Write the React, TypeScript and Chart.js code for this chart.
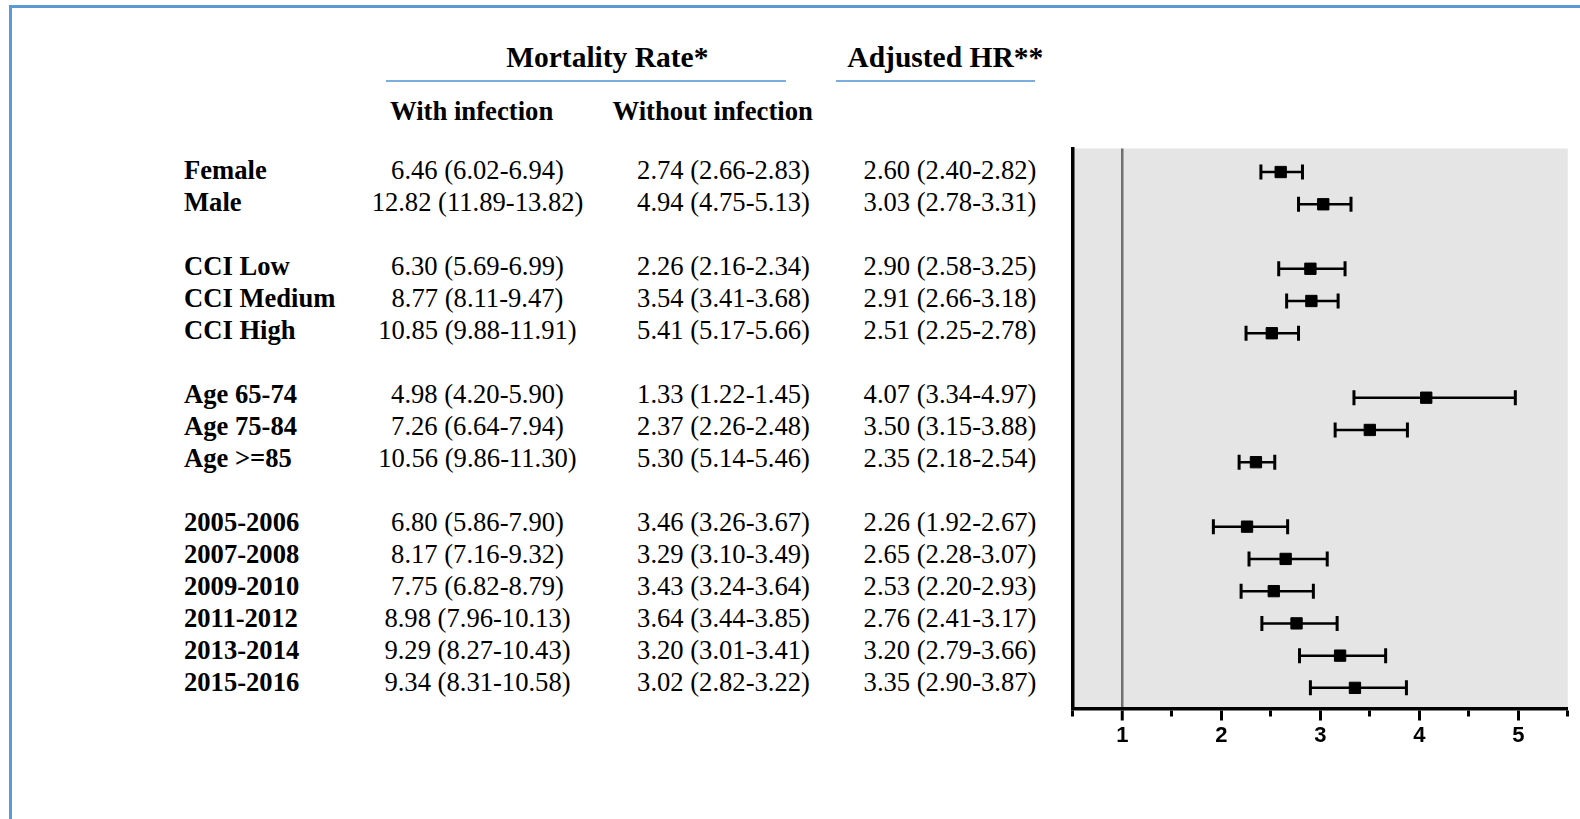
import React, { useEffect, useRef } from 'react';
import { Chart, registerables } from 'chart.js';

Chart.register(...registerables);

// ---------- data ----------
const groupSizes = [2, 3, 3, 6];
const rowLabels = [
  'Female', 'Male',
  'CCI Low', 'CCI Medium', 'CCI High',
  'Age 65-74', 'Age 75-84', 'Age >=85',
  '2005-2006', '2007-2008', '2009-2010', '2011-2012', '2013-2014', '2015-2016',
];
const withRate = [6.46, 12.82, 6.30, 8.77, 10.85, 4.98, 7.26, 10.56, 6.80, 8.17, 7.75, 8.98, 9.29, 9.34];
const withLo = [6.02, 11.89, 5.69, 8.11, 9.88, 4.20, 6.64, 9.86, 5.86, 7.16, 6.82, 7.96, 8.27, 8.31];
const withHi = [6.94, 13.82, 6.99, 9.47, 11.91, 5.90, 7.94, 11.30, 7.90, 9.32, 8.79, 10.13, 10.43, 10.58];
const withoutRate = [2.74, 4.94, 2.26, 3.54, 5.41, 1.33, 2.37, 5.30, 3.46, 3.29, 3.43, 3.64, 3.20, 3.02];
const withoutLo = [2.66, 4.75, 2.16, 3.41, 5.17, 1.22, 2.26, 5.14, 3.26, 3.10, 3.24, 3.44, 3.01, 2.82];
const withoutHi = [2.83, 5.13, 2.34, 3.68, 5.66, 1.45, 2.48, 5.46, 3.67, 3.49, 3.64, 3.85, 3.41, 3.22];
const hr = [2.60, 3.03, 2.90, 2.91, 2.51, 4.07, 3.50, 2.35, 2.26, 2.65, 2.53, 2.76, 3.20, 3.35];
const hrLo = [2.40, 2.78, 2.58, 2.66, 2.25, 3.34, 3.15, 2.18, 1.92, 2.28, 2.20, 2.41, 2.79, 2.90];
const hrHi = [2.82, 3.31, 3.25, 3.18, 2.78, 4.97, 3.88, 2.54, 2.67, 3.07, 2.93, 3.17, 3.66, 3.87];
const xTickLabels = [1, 2, 3, 4, 5];
const refValue = 1;

// row slot index (one empty slot between groups)
const rowPos: number[] = [];
{
  let p = 0;
  groupSizes.forEach((n) => {
    for (let k = 0; k < n; k++) rowPos.push(p++);
    p++;
  });
}

const fmt = (v: number, lo: number, hi: number) =>
  `${v.toFixed(2)} (${lo.toFixed(2)}-${hi.toFixed(2)})`;

const isMajor = (v: number) => xTickLabels.some((t) => Math.abs(t - v) < 1e-6);

const SERIF = '"Liberation Serif", "Times New Roman", Times, serif';
const SANS = '"Liberation Sans", Arial, Helvetica, sans-serif';

const bgPlugin = {
  id: 'plotBg',
  beforeDraw(chart: any) {
    const { ctx, chartArea: a } = chart;
    ctx.save();
    ctx.fillStyle = '#e5e5e5';
    ctx.fillRect(a.left, a.top, a.right - a.left, a.bottom - a.top);
    ctx.restore();
  },
};

function ForestChart() {
  const ref = useRef<HTMLCanvasElement | null>(null);
  useEffect(() => {
    if (!ref.current) return;
    const markers = hr.map((v, i) => ({ x: v, y: rowPos[i] }));
    const ci = hrLo.flatMap((lo, i) => [
      { x: lo, y: rowPos[i] },
      { x: hrHi[i], y: rowPos[i] },
      { x: null, y: null },
    ]);
    const chart = new Chart(ref.current, {
      type: 'scatter',
      data: {
        datasets: [
          {
            data: markers,
            pointStyle: 'rect',
            pointRadius: 8,
            backgroundColor: '#000',
            borderColor: '#000',
            borderWidth: 1,
            showLine: false,
          } as any,
          {
            data: ci as any,
            showLine: true,
            spanGaps: false,
            borderColor: '#000',
            borderWidth: 2.5,
            pointStyle: 'line',
            pointRotation: 90,
            pointRadius: 7.5,
            pointBorderWidth: 3,
            pointBorderColor: '#000',
            pointBackgroundColor: '#000',
          } as any,
        ],
      },
      options: {
        responsive: false,
        animation: false,
        events: [],
        devicePixelRatio: 1,
        layout: { padding: { left: 12.8, right: 12.2, top: 18.5, bottom: 60.5 } },
        plugins: { legend: { display: false }, tooltip: { enabled: false } },
        scales: {
          x: {
            type: 'linear',
            position: 'bottom',
            min: 0.5,
            max: 5.5,
            afterFit: (s: any) => {
              s.height = 50;
            },
            border: { display: true, color: '#000', width: 3.5 },
            grid: {
              drawOnChartArea: true,
              drawTicks: true,
              tickLength: 12,
              tickWidth: 3,
              tickColor: '#000',
              color: (c: any) =>
                c.tick && Math.abs(c.tick.value - refValue) < 1e-6 ? '#707070' : 'rgba(0,0,0,0)',
              lineWidth: (c: any) =>
                c.tick && Math.abs(c.tick.value - refValue) < 1e-6 ? 2.5 : 1,
              tickBorderDash: (c: any) => (c.tick && isMajor(c.tick.value) ? [] : [6, 100]),
            } as any,
            ticks: {
              stepSize: 0.5,
              autoSkip: false,
              maxRotation: 0,
              padding: 2,
              color: '#000',
              font: { family: SANS, weight: 'bold', size: 22 },
              callback: (v: any) => (isMajor(Number(v)) ? String(Math.round(Number(v))) : ''),
            },
          },
          y: {
            type: 'linear',
            reverse: true,
            min: -0.73,
            max: 16.64,
            afterFit: (s: any) => {
              s.width = 0;
            },
            border: { display: true, color: '#000', width: 3.5 },
            grid: { display: false },
            ticks: { display: false },
          },
        },
      } as any,
      plugins: [bgPlugin],
    });
    return () => chart.destroy();
  }, []);
  return (
    <canvas
      ref={ref}
      width={520}
      height={689}
      style={{ position: 'absolute', left: 1060, top: 130, width: 520, height: 689 }}
    />
  );
}

const BODY = 26.6;
const ROW_STEP = 32;
// top of a 32px line box so that the cap-middle lands on 170.5 + 32*slot
const ROW_TOP = 170.5 - (16 - 0.5535 * BODY + 0.891 * BODY - 0.331 * BODY);

function Cell({ text, center, top, bold, size, lh }: any) {
  return (
    <div
      style={{
        position: 'absolute',
        left: center - 200,
        width: 400,
        top,
        textAlign: 'center',
        fontFamily: SERIF,
        fontSize: size,
        lineHeight: lh + 'px',
        fontWeight: bold ? 'bold' : 'normal',
        whiteSpace: 'nowrap',
        color: '#000',
      }}
    >
      {text}
    </div>
  );
}

export default function App() {
  return (
    <div
      style={{
        position: 'absolute',
        left: 0,
        top: 0,
        width: 1580,
        height: 819,
        overflow: 'hidden',
        background: '#fff',
      }}
    >
      <div
        style={{
          position: 'absolute',
          left: 9,
          top: 5,
          width: 1600,
          height: 900,
          borderTop: '3px solid #5b9bd5',
          borderLeft: '3px solid #5b9bd5',
        }}
      />
      {/* headers */}
      <Cell text="Mortality Rate*" center={607.3} top={37.35} bold size={29.5} lh={40} />
      <Cell text="Adjusted HR**" center={945.3} top={37.35} bold size={29.5} lh={40} />
      <div style={{ position: 'absolute', left: 386, width: 400, top: 79.7, height: 2, background: '#7aaedf' }} />
      <div style={{ position: 'absolute', left: 836, width: 199, top: 79.7, height: 2, background: '#7aaedf' }} />
      <Cell text="With infection" center={471.6} top={95} bold size={26.7} lh={32} />
      <Cell text="Without infection" center={712.7} top={95} bold size={26.7} lh={32} />
      {rowLabels.map((lab, i) => {
        const top = ROW_TOP + rowPos[i] * ROW_STEP;
        return (
          <React.Fragment key={lab}>
            <div
              style={{
                position: 'absolute',
                left: 184,
                top,
                fontFamily: SERIF,
                fontSize: BODY,
                lineHeight: '32px',
                fontWeight: 'bold',
                whiteSpace: 'nowrap',
                color: '#000',
              }}
            >
              {lab}
            </div>
            <Cell text={fmt(withRate[i], withLo[i], withHi[i])} center={477.5} top={top} size={BODY} lh={32} />
            <Cell text={fmt(withoutRate[i], withoutLo[i], withoutHi[i])} center={723.5} top={top} size={BODY} lh={32} />
            <Cell text={fmt(hr[i], hrLo[i], hrHi[i])} center={950} top={top} size={BODY} lh={32} />
          </React.Fragment>
        );
      })}
      <ForestChart />
    </div>
  );
}
